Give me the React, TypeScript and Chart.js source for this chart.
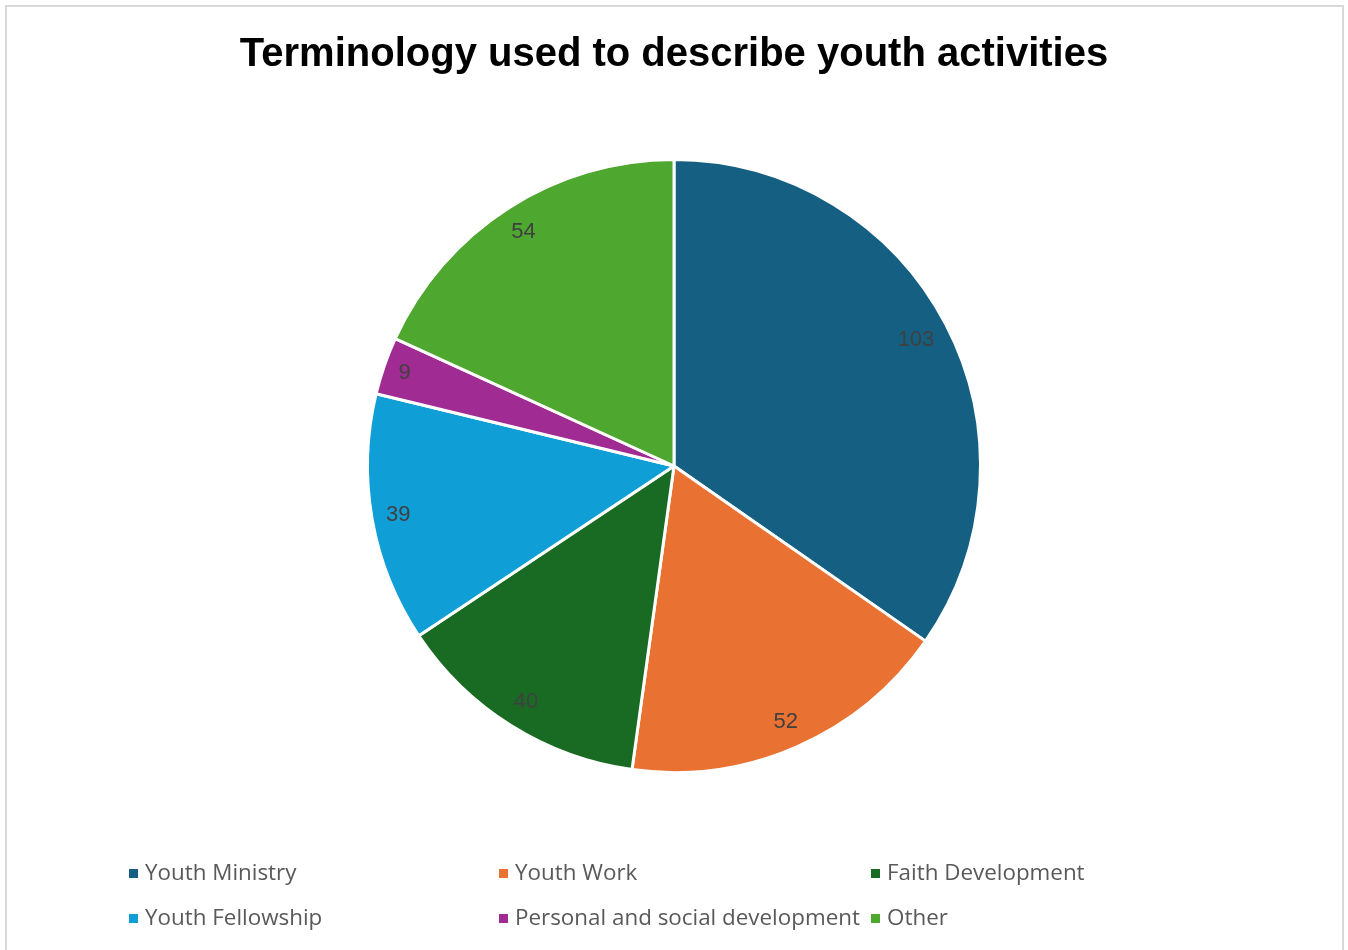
import React, { useEffect, useRef } from "react";
import { Chart, registerables } from "chart.js";

Chart.register(...registerables);

const TITLE = "Terminology used to describe youth activities";
const categories = [
  "Youth Ministry",
  "Youth Work",
  "Faith Development",
  "Youth Fellowship",
  "Personal and social development",
  "Other",
];
const values = [103, 52, 40, 39, 9, 54];
const colors = ["#156082", "#E97132", "#196B24", "#0F9ED5", "#A02B93", "#4EA72E"];

const LABEL_FONT = "22px 'Liberation Sans', Arial, sans-serif";
const LEGEND_FONT = "22.4px 'Open Sans', 'Liberation Sans', sans-serif";

const dataLabelPlugin = {
  id: "insideEndLabels",
  afterDatasetsDraw(chart: any) {
    const ctx = chart.ctx;
    const meta = chart.getDatasetMeta(0);
    ctx.save();
    ctx.font = LABEL_FONT;
    ctx.fillStyle = "#404040";
    ctx.textAlign = "center";
    ctx.textBaseline = "middle";
    meta.data.forEach((arc: any, i: number) => {
      const { x, y, startAngle, endAngle, outerRadius } = arc.getProps(
        ["x", "y", "startAngle", "endAngle", "outerRadius"],
        true
      );
      const mid = (startAngle + endAngle) / 2;
      const text = String(values[i]);
      const hw = ctx.measureText(text).width / 2;
      const hh = 11;
      const target = outerRadius - 12;
      const cx = Math.cos(mid);
      const sy = Math.sin(mid);
      let d = outerRadius;
      while (d > 0) {
        const px = Math.abs(cx * d) + hw;
        const py = Math.abs(sy * d) + hh;
        if (Math.sqrt(px * px + py * py) <= target) break;
        d -= 0.5;
      }
      ctx.fillText(text, x + cx * d, y + sy * d);
    });
    ctx.restore();
  },
};

const gridLegendPlugin = {
  id: "gridLegend",
  afterDraw(chart: any) {
    const ctx = chart.ctx;
    const colX = [129, 499, 871];
    const rowY = [873.5, 918.5];
    ctx.save();
    ctx.font = LEGEND_FONT;
    ctx.textBaseline = "middle";
    ctx.textAlign = "left";
    categories.forEach((c, i) => {
      const col = i % 3;
      const row = Math.floor(i / 3);
      const x = colX[col];
      const y = rowY[row];
      ctx.fillStyle = colors[i];
      ctx.fillRect(x, y - 4.5, 9, 9);
      ctx.fillStyle = "#595959";
      ctx.fillText(c, x + 16, y);
    });
    ctx.restore();
  },
};

export default function App() {
  const ref = useRef<HTMLCanvasElement | null>(null);
  useEffect(() => {
    if (!ref.current) return;
    const chart = new Chart(ref.current, {
      type: "pie",
      data: {
        labels: categories,
        datasets: [
          {
            data: values,
            backgroundColor: colors,
            borderColor: "#ffffff",
            borderWidth: 3,
          },
        ],
      },
      options: {
        responsive: false,
        maintainAspectRatio: false,
        animation: false,
        layout: { padding: { top: 0, bottom: 176, left: 0, right: 0 } },
        plugins: {
          legend: { display: false },
          tooltip: { enabled: false },
          title: {
            display: true,
            text: TITLE,
            color: "#000000",
            font: { family: "'Liberation Sans', Arial, sans-serif", size: 40, weight: "bold", lineHeight: 1.2 },
            padding: { top: 31, bottom: 79 },
          },
        },
      },
      plugins: [dataLabelPlugin, gridLegendPlugin],
    });
    return () => chart.destroy();
  }, []);

  return (
    <div style={{ position: "absolute", left: 0, top: 0, width: 1348, height: 950, overflow: "hidden", background: "#fff" }}>
      <div
        style={{
          position: "absolute",
          left: 5,
          top: 5,
          width: 1335,
          height: 1000,
          border: "2px solid #d9d9d9",
        }}
      />
      <canvas ref={ref} width={1348} height={950} style={{ position: "absolute", left: 0, top: 0, display: "block" }} />
    </div>
  );
}
